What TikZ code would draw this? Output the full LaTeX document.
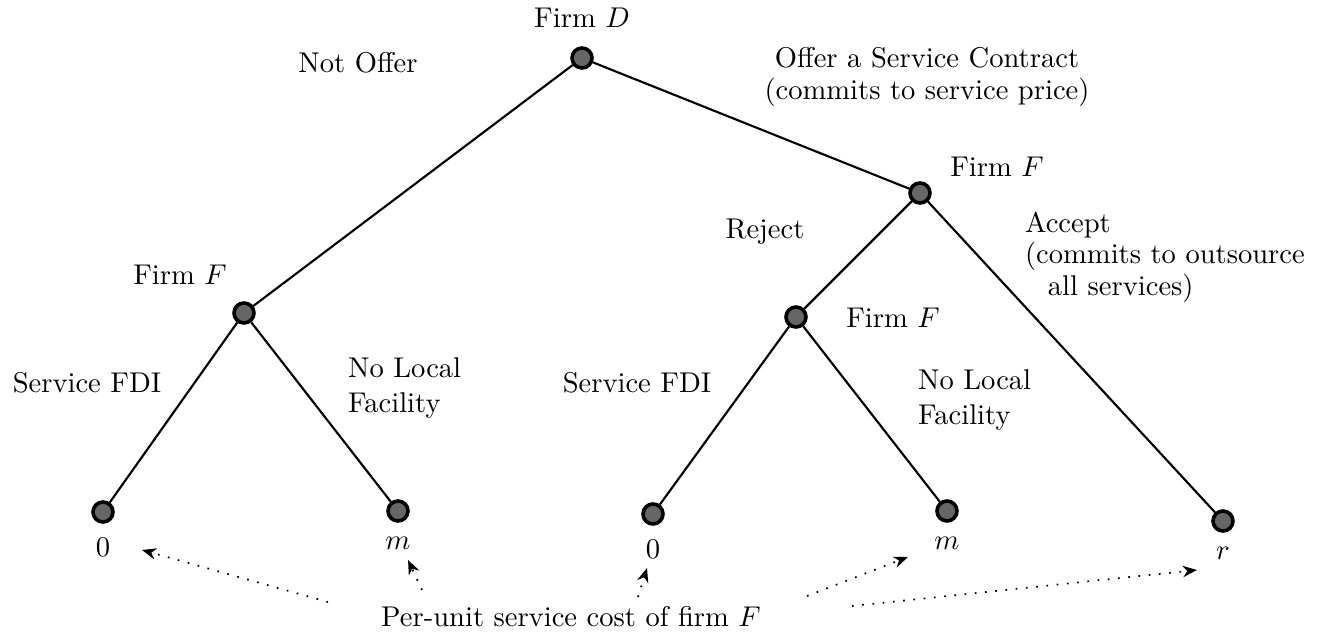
\documentclass[tikz,border=0pt]{standalone}
\usepackage{amsmath}
\usetikzlibrary{positioning,arrows.meta}

\begin{document}
\begin{tikzpicture}[
    x=0.35pt, y=-0.35pt,
    node distance=2pt,
    choice/.style={circle, draw=black, line width=1.25pt, fill=black!60, minimum size=7pt, inner sep=0pt},
    branch/.style={line width=0.75pt},
    multi/.style={align=left},
    arrow/.style={-{Stealth[length=5pt,width=4pt]}, line width=0.6pt, dash pattern=on 0.6pt off 3pt}
]
    \useasboundingbox (0,0) rectangle (1330,636);

    % Decision nodes
    \node[choice] (root) at (582,58) {};
    \node[choice] (ff) at (920,193) {};
    \node[choice] (fl) at (244,313) {};
    \node[choice] (fr) at (796,317) {};

    % Terminal nodes
    \node[choice] (la) at (103,512) {};
    \node[choice] (lb) at (398,511) {};
    \node[choice] (lc) at (653,514) {};
    \node[choice] (ld) at (947,511) {};
    \node[choice] (le) at (1223,521) {};

    % Branches
    \draw[branch] (root) -- (fl);
    \draw[branch] (root) -- (ff);
    \draw[branch] (ff) -- (fr);
    \draw[branch] (ff) -- (le);
    \draw[branch] (fl) -- (la);
    \draw[branch] (fl) -- (lb);
    \draw[branch] (fr) -- (lc);
    \draw[branch] (fr) -- (ld);

    % Players
    \node[above=3pt of root] (firmD) {Firm $D$};
    \node (firmFtop) at (997,167) {Firm $F$};
    \node (firmFleft) at (180,275) {Firm $F$};
    \node (firmFright) at (893,318) {Firm $F$};

    % Actions
    \node (notoffer) at (358,63) {Not Offer};
    \node[align=center] (offer) at (927,77) {Offer a Service Contract\\[-1pt](commits to service price)};
    \node (reject) at (765,232) {Reject};
    \node[multi, anchor=west] (accept) at (1015,257) {Accept\\[-1pt](commits to outsource\\[-1pt]\hspace{8pt}all services)};
    \node (fdileft) at (87,383) {Service FDI};
    \node[multi, anchor=west] (nolocleft) at (338,388) {No Local\\Facility};
    \node (fdiright) at (637,383) {Service FDI};
    \node[multi, anchor=west] (nolocright) at (908,400) {No Local\\Facility};

    % Payoffs
    \node[below=1.5pt of la] (pa) {$0$};
    \node[below=1.5pt of lb] (pb) {$m$};
    \node[below=1.5pt of lc] (pc) {$0$};
    \node[below=1.5pt of ld] (pd) {$m$};
    \node[below=1.5pt of le] (pe) {$r$};

    % Note
    \node (cost) at (571,617) {Per-unit service cost of firm $F$};
    \coordinate (t1) at (328,602); \coordinate (h1) at (142,550);
    \coordinate (t2) at (422,590); \coordinate (h2) at (408,560);
    \coordinate (t3) at (638,597); \coordinate (h3) at (647,568);
    \coordinate (t4) at (807,596); \coordinate (h4) at (908,557);
    \coordinate (t5) at (852,606); \coordinate (h5) at (1197,570);
    \foreach \i in {1,...,5}
        \draw[arrow] (t\i) -- (h\i);
\end{tikzpicture}
\end{document}
